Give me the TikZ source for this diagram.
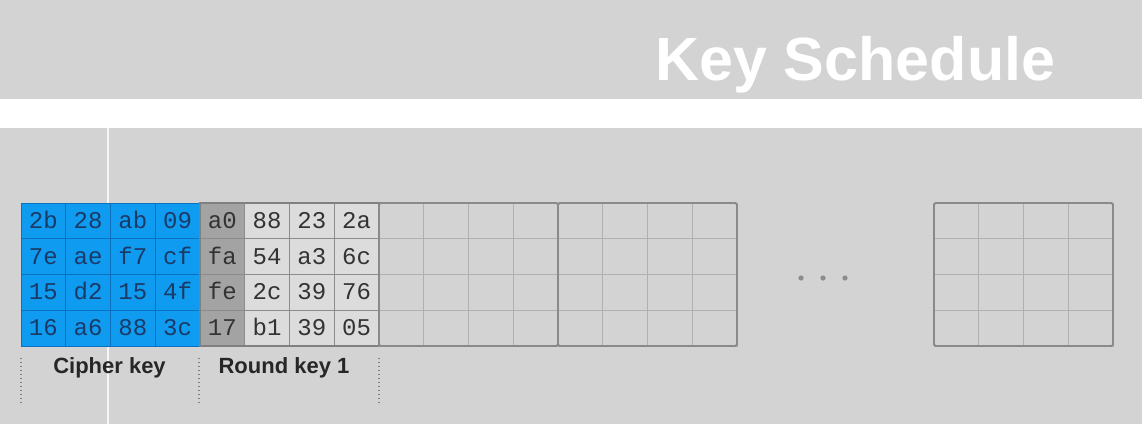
\documentclass[tikz,border=0pt]{standalone}
\usepackage{fontspec}
\setmainfont{Liberation Sans}
\newfontfamily\monof{Liberation Mono}
\definecolor{bg}{HTML}{D3D3D3}
\definecolor{keyblue}{HTML}{0E9BF0}
\definecolor{keyblueline}{HTML}{0B70BE}
\definecolor{keytext}{HTML}{1B3A66}
\definecolor{darkcell}{HTML}{A3A3A3}
\definecolor{lightcell}{HTML}{DCDCDC}
\definecolor{cellline}{HTML}{8C8C8C}
\definecolor{gridline}{HTML}{B0B0B0}
\definecolor{boxline}{HTML}{8A8A8A}
\definecolor{labeltext}{HTML}{262626}
\begin{document}
\begin{tikzpicture}[x=1pt,y=-1pt,
  cellbox/.style={rectangle, inner sep=0pt, minimum width=44.75pt, minimum height=35.75pt,
    text height=15pt, text depth=0pt,
    font=\monof\fontsize{24}{24}\selectfont},
  bluecell/.style={cellbox, fill=keyblue, draw=keyblueline, line width=0.8pt, text=keytext},
  graycell/.style={cellbox, fill=lightcell, draw=cellline, line width=1.1pt, text=black!80},
  darkgraycell/.style={cellbox, fill=darkcell, draw=cellline, line width=1.1pt, text=black!80},
  emptycell/.style={rectangle, inner sep=0pt, minimum width=44.75pt, minimum height=35.75pt, draw=gridline, line width=0.8pt},
  outerbox/.style={draw=boxline, line width=1.8pt, rounded corners=1.5pt},
  lbl/.style={font=\bfseries\fontsize{22}{22}\selectfont, text=labeltext, inner sep=0pt},
  sep/.style={draw=black!50, line width=1.1pt, dash pattern=on 1.3pt off 2.7pt}]
\fill[bg] (0,0) rectangle (1142,424);
\useasboundingbox (0,0) rectangle (1142,424);
\fill[white] (0,99) rectangle (1142,128);
\draw[white!80!bg, line width=2pt] (108,128) -- (108,424);
\node[anchor=base west, text=white, inner sep=0pt, font=\bfseries\fontsize{61}{61}\selectfont] (title) at (655,80) {Key Schedule};
% cipher key
\foreach \row [count=\j from 0] in {{2b,28,ab,09},{7e,ae,f7,cf},{15,d2,15,4f},{16,a6,88,3c}}{
  \foreach \v [count=\i from 0] in \row {
    \node[bluecell] (ck-\j-\i) at ({21+44.75*(\i+0.5)},{203+35.75*(\j+0.5)}) {\v};
  }
}
% round key 1
\foreach \row [count=\j from 0] in {{a0,88,23,2a},{fa,54,a3,6c},{fe,2c,39,76},{17,b1,39,05}}{
  \foreach \v [count=\i from 0] in \row {
    \ifnum\i=0
      \node[darkgraycell] (rk-\j-\i) at ({200+44.75*(\i+0.5)},{203+35.75*(\j+0.5)}) {\v};
    \else
      \node[graycell] (rk-\j-\i) at ({200+44.75*(\i+0.5)},{203+35.75*(\j+0.5)}) {\v};
    \fi
  }
}
\draw[draw=black!50, line width=1.6pt] (200,203) rectangle (379,346);
% empty blocks
\foreach \bx/\nm in {379/ea,558/eb,934/ec}{
  \foreach \j in {0,...,3}{
    \foreach \i in {0,...,3}{
      \node[emptycell] (\nm-\j-\i) at ({\bx+44.75*(\i+0.5)},{203+35.75*(\j+0.5)}) {};
    }
  }
  \draw[outerbox] (\bx,203) rectangle ({\bx+179},346);
}
% dots
\foreach \x in {801,823,845}{
  \fill[black!45] (\x,278) circle (2.6pt);
}
% separators
\foreach \x in {21,199,379}{
  \draw[sep] (\x,358) -- (\x,405);
}
\node[lbl] (cklabel) at (109.5,368) {Cipher key};
\node[lbl] (rklabel) at (284,368) {Round key 1};
\end{tikzpicture}
\end{document}
